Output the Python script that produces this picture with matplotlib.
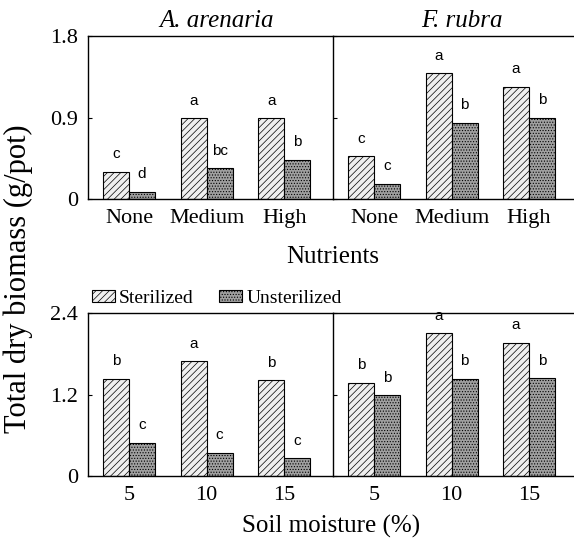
import numpy as np
import matplotlib
matplotlib.use("Agg")
import matplotlib.pyplot as plt
from matplotlib.patches import Patch

plt.rcParams['font.family'] = ['Liberation Serif', 'DejaVu Serif']
plt.rcParams['hatch.linewidth'] = 0.5

species = ["A. arenaria", "F. rubra"]
nutrients = ["None", "Medium", "High"]
moisture = ["5", "10", "15"]

# top row: nutrients
nut_ster = {"A. arenaria": [0.30, 0.89, 0.89], "F. rubra": [0.47, 1.39, 1.24]}
nut_unst = {"A. arenaria": [0.08, 0.34, 0.43], "F. rubra": [0.17, 0.84, 0.90]}
nut_ster_lab = {"A. arenaria": ["c", "a", "a"], "F. rubra": ["c", "a", "a"]}
nut_unst_lab = {"A. arenaria": ["d", "bc", "b"], "F. rubra": ["c", "b", "b"]}

# bottom row: soil moisture
moi_ster = {"A. arenaria": [1.43, 1.69, 1.41], "F. rubra": [1.37, 2.10, 1.96]}
moi_unst = {"A. arenaria": [0.49, 0.34, 0.26], "F. rubra": [1.19, 1.43, 1.44]}
moi_ster_lab = {"A. arenaria": ["b", "a", "b"], "F. rubra": ["b", "a", "a"]}
moi_unst_lab = {"A. arenaria": ["c", "c", "c"], "F. rubra": ["b", "b", "b"]}

W = 0.335
ster_style = dict(facecolor="#efefef", edgecolor="black", hatch="/////", linewidth=0.8)
unst_style = dict(facecolor="#a0a0a0", edgecolor="black", hatch="......", linewidth=0.8)

fig = plt.figure(figsize=(5.74, 5.46), dpi=100)
L, R, PW = 0.1533, 0.580, 0.4268
boxes = {
    (0, 0): [L, 0.6355, PW, 0.2985],
    (0, 1): [R, 0.6355, PW, 0.2985],
    (1, 0): [L, 0.1282, PW, 0.2985],
    (1, 1): [R, 0.1282, PW, 0.2985],
}
title_x = [0.378, 0.805]


def panel(ax, cats, s, u, sl, ul, ymax, yticks, ylabels):
    x = np.arange(len(cats))
    ax.bar(x - W / 2, s, W, **ster_style)
    ax.bar(x + W / 2, u, W, **unst_style)
    off = ymax * 0.065
    for xi, v, t in zip(x, s, sl):
        ax.text(xi - W / 2, v + off, t, ha="center", va="bottom",
                fontsize=11, family="Liberation Sans")
    for xi, v, t in zip(x, u, ul):
        ax.text(xi + W / 2, v + off, t, ha="center", va="bottom",
                fontsize=11, family="Liberation Sans")
    ax.set_xlim(-0.53, 2.63)
    ax.set_ylim(0, ymax)
    ax.set_yticks(yticks)
    ax.set_yticklabels(ylabels)
    ax.set_xticks(x)
    ax.set_xticklabels(cats, fontsize=16)
    ax.tick_params(axis="x", length=0, pad=7)
    ax.tick_params(axis="y", direction="in", length=3, labelsize=16, pad=7)
    ax.spines["right"].set_visible(False)
    for sp in ax.spines.values():
        sp.set_linewidth(1.0)


for j, sp in enumerate(species):
    ax = fig.add_axes(boxes[(0, j)])
    panel(ax, nutrients, nut_ster[sp], nut_unst[sp], nut_ster_lab[sp], nut_unst_lab[sp],
          1.8, [0, 0.9, 1.8], ["0", "0.9", "1.8"] if j == 0 else [])
    fig.text(title_x[j], 0.962, sp, ha="center", va="center", fontsize=18, style="italic")

    ax = fig.add_axes(boxes[(1, j)])
    panel(ax, moisture, moi_ster[sp], moi_unst[sp], moi_ster_lab[sp], moi_unst_lab[sp],
          2.4, [0, 1.2, 2.4], ["0", "1.2", "2.4"] if j == 0 else [])

fig.text(0.58, 0.529, "Nutrients", ha="center", va="center", fontsize=18)
fig.text(0.577, 0.035, "Soil moisture (%)", ha="center", va="center", fontsize=18)
fig.text(0.032, 0.49, "Total dry biomass (g/pot)", ha="center", va="center",
         rotation=90, fontsize=22)

handles = [Patch(label="Sterilized", **ster_style), Patch(label="Unsterilized", **unst_style)]
fig.legend(handles=handles, loc="center left", bbox_to_anchor=(0.16, 0.454), ncol=2,
           frameon=False, fontsize=14, handlelength=1.2, handleheight=0.55,
           handletextpad=0.2, columnspacing=1.3, borderaxespad=0, borderpad=0)

fig.savefig("out.png", dpi=100)
